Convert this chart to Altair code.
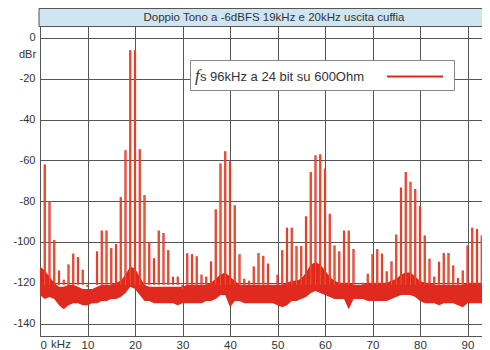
import altair as alt
import pandas as pd

# ---- data ----
spike_khz = list(range(1, 95))
spike_db = [
    -62, -80, -99, -114, -118.5, -111, -105.7, -107.4, -113.6, -122,
    -121, -104.6, -94.4, -94.4, -103, -101, -78, -55, -6, -6,
    -54.5, -77, -100, -108, -94.4, -95.6, -104, -117, -117, -123,
    -105.5, -106, -107, -116, -117, -109.5, -84, -61.5, -55.5, -60.5,
    -82, -106, -118, -119, -112, -105.4, -106.8, -110.6, -121, -116,
    -104, -93, -93, -102, -102, -87.4, -65.7, -57.5, -57, -64,
    -86.2, -101.7, -104.6, -94.4, -94.4, -103.4, -121, -120, -115.6, -106,
    -103.5, -105.7, -114.4, -109.5, -96.4, -73.3, -65.7, -70.5, -74, -82.4,
    -96.8, -108.2, -117, -109.7, -105.4, -105.4, -111.5, -117.6, -114, -101.7,
    -93, -93.6, -96.8, -85.3,
]

noise_khz = list(range(0, 95)) + [94.7]
noise_hi = [
    -112, -114, -117, -120, -122, -122, -121, -121, -122, -123,
    -123, -123, -122, -121, -121, -121, -120, -119, -116, -112,
    -113, -117, -121, -122, -122, -122, -122, -122, -122, -122,
    -122, -121, -121, -121, -121, -121, -120, -118, -116, -115,
    -117, -119, -121, -121, -121, -121, -121, -121, -121, -121,
    -121, -121, -120, -119, -119, -118, -115, -111, -110, -111,
    -114, -117, -119, -120, -120, -120, -121, -121, -121, -120,
    -120, -120, -120, -120, -119, -118, -116, -115, -115, -117,
    -119, -120, -120, -121, -121, -121, -121, -121, -121, -121,
    -120, -120, -120, -120, -120, -120,
]
noise_lo = [
    -126, -128, -127, -128, -131, -133, -131, -130, -130, -131,
    -131, -130, -130, -129, -129, -128, -128, -127, -125, -122,
    -123, -126, -129, -129, -130, -130, -130, -130, -130, -131,
    -130, -130, -130, -130, -130, -129, -129, -128, -126, -126,
    -132, -129, -129, -130, -130, -130, -130, -130, -130, -130,
    -131, -132, -131, -129, -129, -128, -127, -125, -124, -125,
    -126, -127, -128, -128, -128, -133, -128, -128, -128, -129,
    -129, -129, -129, -129, -128, -127, -126, -126, -126, -127,
    -129, -130, -130, -130, -131, -130, -130, -130, -131, -132,
    -130, -130, -130, -130, -130, -130,
]

x_ticks = [0, 10, 20, 30, 40, 50, 60, 70, 80, 90]
y_ticks = [-140, -120, -100, -80, -60, -40, -20, 0]

title_text = "Doppio Tono a -6dBFS 19kHz e 20kHz uscita cuffia"
legend_f = "f"
legend_text = "s 96kHz a 24 bit su 600Ohm"

W, H = 442, 328
X_MAX = 442 / 4.75
Y_MIN, Y_MAX = -146.1, 14.7
RED = "#e3261c"
CORE = "#f4a050"

spikes = pd.DataFrame({"f": spike_khz, "db": spike_db, "base": [-121] * len(spike_khz)})
noise = pd.DataFrame({"f": noise_khz, "hi": noise_hi, "lo": noise_lo})
one = pd.DataFrame({"a": [0]})

xs = alt.Scale(domain=[0, X_MAX], nice=False, zero=False)
ys = alt.Scale(domain=[Y_MIN, Y_MAX], nice=False, zero=False)

xaxis = alt.Axis(values=x_ticks, title=None, labelExpr="'' + datum.value",
                 grid=True, domain=False, ticks=False, labelPadding=3, labelFontSize=11.5)
yaxis = alt.Axis(values=y_ticks, title=None, labelExpr="'' + datum.value",
                 grid=True, domain=False, ticks=False, labelPadding=5, labelFontSize=11)

area = alt.Chart(noise).mark_area(color="#e02a1f", opacity=1, interpolate="linear", clip=True).encode(
    x=alt.X("f:Q", scale=xs, axis=xaxis),
    y=alt.Y("hi:Q", scale=ys, axis=yaxis),
    y2="lo:Q",
)

spk = alt.Chart(spikes).mark_rule(color=RED, strokeWidth=2.2, clip=True).encode(
    x=alt.X("f:Q", scale=xs), y=alt.Y("db:Q", scale=ys), y2="base:Q"
)
spk_core = alt.Chart(spikes).mark_rule(color=CORE, strokeWidth=0.6, opacity=0.7, clip=True).encode(
    x=alt.X("f:Q", scale=xs), y=alt.Y("db:Q", scale=ys), y2="base:Q"
)

title_bar = alt.Chart(one).mark_rect(fill="#cfe6f2", stroke="#555", strokeWidth=1).encode(
    x=alt.value(-1), x2=alt.value(W + 2), y=alt.value(0.5), y2=alt.value(18.5)
)
title = alt.Chart(one).mark_text(text=title_text, font="Liberation Sans", fontSize=11.5,
                                 color="#333", align="center", baseline="middle").encode(
    x=alt.value(234), y=alt.value(9.5)
)

leg_box = alt.Chart(one).mark_rect(fill="white", stroke="#888", strokeWidth=1).encode(
    x=alt.value(150.5), x2=alt.value(414.5), y=alt.value(52.5), y2=alt.value(82.5)
)
leg_f = alt.Chart(one).mark_text(text=legend_f, font="Liberation Serif", fontStyle="italic",
                                 fontSize=17, color="#333", align="left", baseline="middle").encode(
    x=alt.value(155), y=alt.value(68)
)
leg_t = alt.Chart(one).mark_text(text=legend_text, font="Liberation Sans", fontSize=13,
                                 color="#333", align="left", baseline="middle").encode(
    x=alt.value(160), y=alt.value(69)
)
leg_line = alt.Chart(one).mark_rule(color=RED, strokeWidth=2).encode(
    x=alt.value(347), x2=alt.value(403), y=alt.value(68.5)
)

khz = alt.Chart(one).mark_text(text="kHz", font="Liberation Sans", fontSize=11.5,
                               color="#333", align="center", baseline="top").encode(
    x=alt.value(21), y=alt.value(H + 3)
)
dbr = alt.Chart(one).mark_text(text="dBr", font="Liberation Sans", fontSize=11,
                               color="#333", align="center", baseline="middle").encode(
    x=alt.value(-12.5), y=alt.value(47)
)

chart = alt.layer(
    area, spk, spk_core, title_bar, title, leg_box, leg_line, leg_f, leg_t, khz, dbr
).properties(
    width=W, height=H,
    autosize=alt.AutoSizeParams(type="none"),
    padding={"left": 32, "top": 0, "right": 0, "bottom": 14},
    background="white",
).configure_view(stroke="#555", strokeWidth=1).configure_axis(
    gridColor="#555", gridWidth=1, labelColor="#333", labelFont="Liberation Sans"
)

chart.save("out.html", embed_options={"renderer": "svg", "actions": False})
